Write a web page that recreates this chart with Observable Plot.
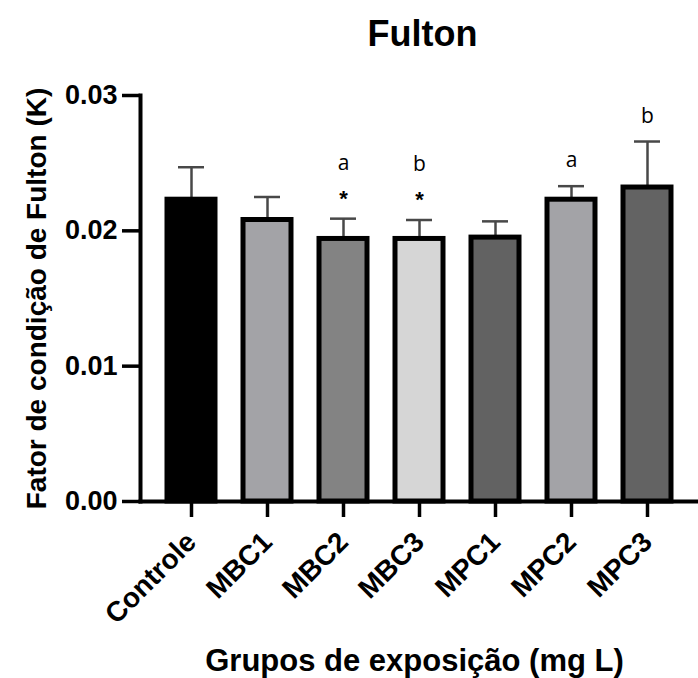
<!DOCTYPE html>
<html>
<head>
<meta charset="utf-8">
<script src="https://cdn.jsdelivr.net/npm/d3@7"></script>
<script src="https://cdn.jsdelivr.net/npm/@observablehq/plot@0.6"></script>
<style>
  body { margin: 0; background: #fff; }
  #chart { width: 698px; height: 678px; }
</style>
</head>
<body>
<div id="chart"></div>
<script>
// Fulton condition factor (K) by exposure group: mean ± SD
const groups = ["Controle", "MBC1", "MBC2", "MBC3", "MPC1", "MPC2", "MPC3"];
const means  = [0.0223, 0.0208, 0.0194, 0.0194, 0.0195, 0.0223, 0.0232];
const sds    = [0.0024, 0.0017, 0.0015, 0.0014, 0.0012, 0.0010, 0.0034];
const fills  = ["#000000", "#a3a3a7", "#838383", "#d6d6d6", "#626262", "#a3a3a7", "#636363"];
const letters = ["", "", "a", "b", "", "a", "b"];
const stars   = ["", "", "*", "*", "", "", ""];
const yTicks  = [0, 0.01, 0.02, 0.03];

const rows = groups.map((g, i) => ({
  group: g, mean: means[i], sd: sds[i], fill: fills[i],
  letter: letters[i], star: stars[i]
}));

const sans = "'Liberation Sans', Arial, sans-serif";

const chart = Plot.plot({
  width: 698,
  height: 678,
  marginLeft: 140,
  marginRight: 0,
  marginTop: 95,
  marginBottom: 177,
  style: { fontFamily: sans, background: "#fff", color: "#000" },
  x: { type: "band", domain: groups, paddingInner: 0.37, paddingOuter: 0.31, label: null },
  y: { domain: [0, 0.03], label: null },
  color: { type: "identity" },
  marks: [
    // error bars (upper half only)
    Plot.ruleX(rows, { x: "group", y1: "mean", y2: d => d.mean + d.sd, stroke: "#484848", strokeWidth: 2.5 }),
    Plot.tickY(rows, { x: "group", y: d => d.mean + d.sd, stroke: "#484848", strokeWidth: 2.5, insetLeft: 11, insetRight: 11 }),
    // bars
    Plot.barY(rows, { x: "group", y1: 0, y2: "mean", fill: "fill", stroke: "#000", strokeWidth: 5 }),
    // significance marks
    Plot.text(rows.filter(d => d.star), { x: "group", y: d => d.mean + d.sd, text: "star", lineAnchor: "bottom", dy: -13, fontSize: 22, fontWeight: "bold" }),
    Plot.text(rows.filter(d => d.letter && d.star), { x: "group", y: d => d.mean + d.sd, text: "letter", lineAnchor: "bottom", dy: -49, fontSize: 21, fontFamily: "'Open Sans', sans-serif" }),
    Plot.text(rows.filter(d => d.letter && !d.star), { x: "group", y: d => d.mean + d.sd, text: "letter", lineAnchor: "bottom", dy: -19, fontSize: 21, fontFamily: "'Open Sans', sans-serif" }),
    // axes
    Plot.frame({ anchor: "left", stroke: "#000", strokeWidth: 4, strokeLinecap: "square" }),
    Plot.frame({ anchor: "bottom", stroke: "#000", strokeWidth: 4 }),
    Plot.axisY({ ticks: yTicks, tickFormat: d3.format(".2f"), tickSize: 18, tickPadding: 5, strokeWidth: 3.5, fontSize: 27, fontWeight: "bold", label: null }),
    Plot.axisX({ tickSize: 16, tickPadding: 20, tickRotate: -45, strokeWidth: 3.5, fontSize: 28, fontWeight: "bold", label: null }),
    // titles
    Plot.text(["Fulton"], { frameAnchor: "top", dy: -75, dx: 3, fontSize: 36, fontWeight: "bold" }),
    Plot.text(["Fator de condição de Fulton (K)"], { frameAnchor: "left", textAnchor: "middle", rotate: -90, dx: -103, fontSize: 28, fontWeight: "bold" }),
    Plot.text(["Grupos de exposição (mg L)"], { frameAnchor: "bottom", dy: 169, dx: -5, fontSize: 31, fontWeight: "bold" })
  ]
});

document.getElementById("chart").appendChild(chart);
</script>
</body>
</html>
